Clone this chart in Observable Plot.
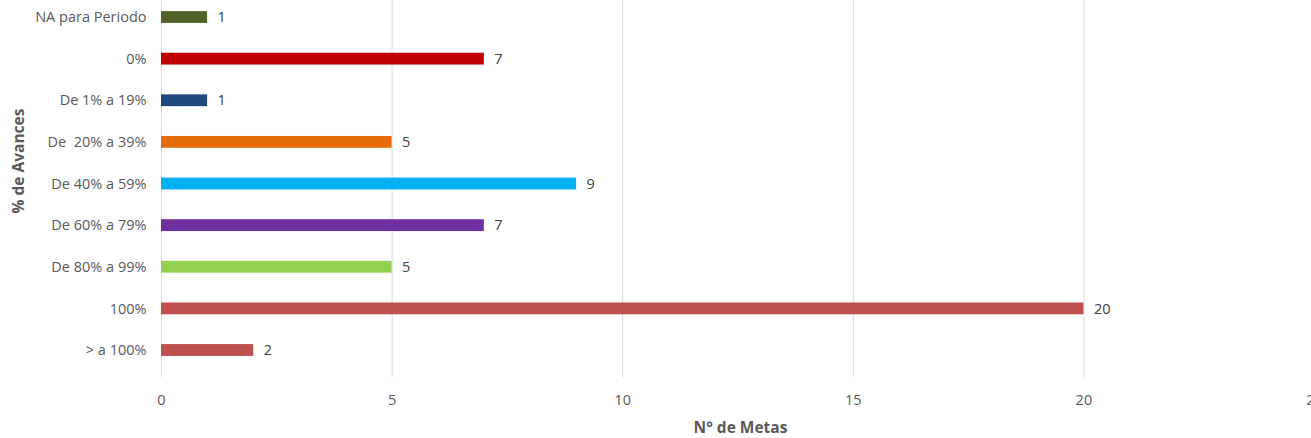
<!DOCTYPE html>
<html>
<head>
<meta charset="utf-8">
<script src="https://cdn.jsdelivr.net/npm/d3@7"></script>
<script src="https://cdn.jsdelivr.net/npm/@observablehq/plot@0.6"></script>
<style>
  html, body { margin: 0; padding: 0; background: #fff; overflow: hidden; }
  #chart svg { display: block; }
</style>
</head>
<body>
<div id="chart"></div>
<script>
const categories = ["NA para Periodo", "0%", "De 1% a 19%", "De  20% a 39%", "De 40% a 59%", "De 60% a 79%", "De 80% a 99%", "100%", "> a 100%"];
const values = [1, 7, 1, 5, 9, 7, 5, 20, 2];
const barColors = ["#4F6228", "#C00000", "#1F497D", "#E46C0A", "#00B0F0", "#7030A0", "#92D050", "#C0504D", "#C0504D"];
const xTicks = [0, 5, 10, 15, 20, 25];
const xLabel = "N° de Metas";
const yLabel = "% de Avances";

const data = categories.map((c, i) => ({cat: c, value: values[i]}));
const font = "'Open Sans', Lato, sans-serif";

const chart = Plot.plot({
  width: 1311,
  height: 438,
  marginTop: 0,
  marginBottom: 61,
  marginLeft: 161,
  marginRight: 0,
  style: {fontFamily: font, fontSize: "14.5px", color: "#595959", background: "#fff", overflow: "hidden"},
  x: {domain: [0, 25], range: [161, 1314]},
  y: {domain: categories, range: [-3.8, 370.8], padding: 0, round: false},
  color: {domain: categories, range: barColors},
  marks: [
    Plot.gridX(xTicks, {stroke: "#d9d9d9", strokeOpacity: 1, strokeWidth: 1}),
    Plot.barX(data, {x: "value", y: "cat", fill: "cat", insetTop: 14.9, insetBottom: 14.9}),
    Plot.text(data, {x: "value", y: "cat", text: d => String(d.value), textAnchor: "start", dx: 10, fill: "#404040", fontSize: 14.5}),
    Plot.axisX({ticks: xTicks, tickSize: 0, tickPadding: 17, label: null, fontSize: 14.5, fill: "#595959"}),
    Plot.axisY({tickSize: 0, tickPadding: 15, label: null, fontSize: 14.5, fill: "#595959"}),
    Plot.text([xLabel], {frameAnchor: "bottom", dx: 4, dy: 51, textAnchor: "middle", lineAnchor: "middle", fontWeight: "bold", fontSize: 15.5, fill: "#595959"}),
    Plot.text([yLabel], {frameAnchor: "left", dx: -142, dy: -28, rotate: -90, textAnchor: "middle", lineAnchor: "middle", fontWeight: "bold", fontSize: 15.5, fill: "#595959"})
  ]
});
document.getElementById("chart").appendChild(chart);
</script>
</body>
</html>
